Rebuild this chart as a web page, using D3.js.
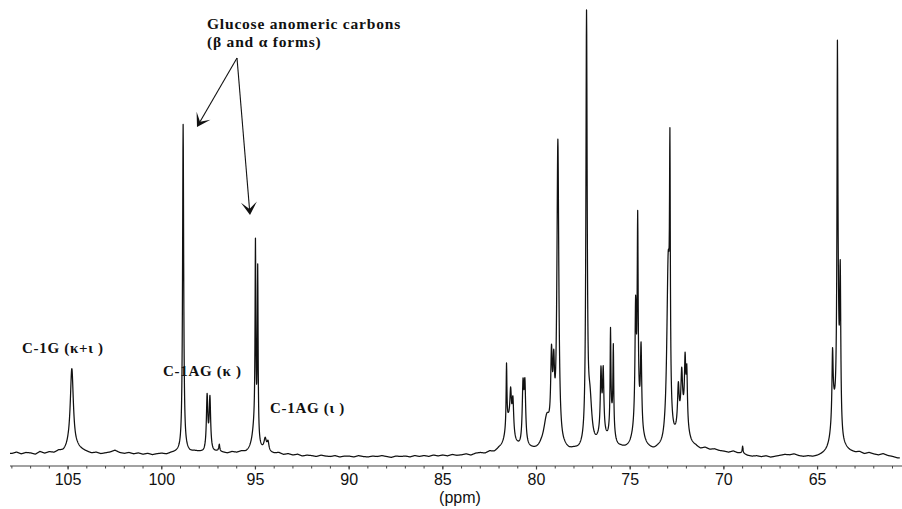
<!DOCTYPE html>
<html>
<head>
<meta charset="utf-8">
<script src="https://cdn.jsdelivr.net/npm/d3@7"></script>
<style>
  body { margin: 0; background: #fff; }
  svg { display: block; }
</style>
</head>
<body>
<svg id="chart" width="902" height="509"></svg>
<script>
// 13C NMR resonance lines: chemical shift (ppm), peak height (relative), full width at half height (ppm)
const peakShift = [104.80, 98.86, 97.58, 97.43, 96.93, 95.00, 94.88, 95.05, 94.48, 94.33,
  81.60, 81.50, 81.38, 81.26, 80.72, 80.62, 79.45, 79.20, 79.08, 78.86,
  77.33, 77.15, 76.56, 76.44, 76.50, 76.05, 75.90, 75.98,
  74.71, 74.60, 74.42, 74.60, 72.88, 72.97, 72.43, 72.25, 72.07, 71.98, 72.20,
  69.00, 64.20, 64.15, 63.94, 63.92, 63.79];
const peakHeight = [18.5, 73, 12, 11.5, 1.5, 41.5, 38, 5, 2.5, 2,
  14, 6, 8, 8, 13, 13, 7, 17, 14, 68,
  95, 10, 13, 13, 4, 21, 18, 6,
  25, 42, 18, 8, 51, 40, 9, 10, 13, 12, 7,
  1.5, 14, 8, 61.5, 28, 34];
const peakWidth = [0.20, 0.07, 0.09, 0.09, 0.06, 0.05, 0.05, 0.30, 0.15, 0.12,
  0.05, 0.45, 0.10, 0.10, 0.10, 0.10, 0.40, 0.10, 0.10, 0.12,
  0.08, 0.25, 0.08, 0.08, 0.40, 0.05, 0.05, 0.30,
  0.08, 0.06, 0.08, 0.45, 0.05, 0.18, 0.10, 0.10, 0.08, 0.08, 0.60,
  0.05, 0.07, 0.30, 0.05, 0.14, 0.07];

// baseline level (with noise) sampled every 0.25 ppm from 108.0 ppm downfield to upfield
const baselineStart = 108.0;
const baselineStep = 0.25;
const baselineLevel = [
  1.0, 1.3, 0.9, 1.2,  1.1, 0.8, 1.4, 1.0,  1.3, 1.1, 1.5, 1.2,  1.7, 1.4, 1.9, 1.6,
  1.3, 1.0, 1.2, 0.9,  1.1, 1.3, 1.7, 1.2,  1.0, 1.2, 0.9, 1.1,  0.8, 1.0, 0.7, 0.9,
  1.0, 0.8, 1.1, 1.2,  1.3, 1.5, 1.2, 1.4,  1.3, 1.1, 1.5, 1.2,  1.4, 1.2, 1.0, 1.3,
  1.1, 1.3, 1.0, 1.2,  1.4, 1.2, 1.3, 1.0,  0.9, 1.1, 0.7, 0.9,  0.6, 0.8, 0.4, 0.6,
  0.5, 0.3, 0.6, 0.4,  0.3, 0.5, 0.2, 0.4,  0.4, 0.2, 0.5, 0.3,  0.2, 0.4, 0.3, 0.5,
  0.3, 0.1, 0.4, 0.3,  0.4, 0.2, 0.5, 0.3,  0.5, 0.3, 0.6, 0.4,  0.6, 0.4, 0.7, 0.5,
  0.6, 0.8, 0.5, 0.9,  1.0, 0.8, 1.2, 0.9,  1.3, 1.1, 1.6, 1.4,  1.5, 1.3, 1.6, 1.4,
  1.2, 1.4, 1.1, 1.3,  1.2, 1.0, 1.3, 1.1,  1.3, 1.1, 1.2, 1.0,  1.2, 1.4, 1.1, 1.3,
  1.2, 1.0, 1.3, 1.1,  1.0, 1.2, 0.9, 1.1,  1.0, 0.8, 1.1, 0.9,  1.2, 1.0, 1.3, 1.1,
  1.4, 1.2, 1.5, 1.3,  1.8, 1.5, 1.7, 1.4,  1.3, 1.1, 1.4, 1.0,  1.0, 0.5, 0.3, 0.4,
  0.2, 0.4, 0.1, 0.3,  0.5, 0.7, 0.6, 0.8,  0.4, 0.2, 0.3, 0.1,  0.2, 0.4, 0.6, 0.9,
  1.2, 1.0, 1.3, 1.1,  1.0, 1.2, 0.8, 1.1,  0.8, 0.6, 0.9, 0.5,  0.3, 0.0
];

const tickValues = [105, 100, 95, 90, 85, 80, 75, 70, 65];
const minorTickValues = d3.range(108, 60, -1);
const axisTitle = "(ppm)";

const peakLabels = ["C-1G (\u03ba+\u03b9 )", "C-1AG (\u03ba )", "C-1AG (\u03b9 )"];
const noteLines = ["Glucose anomeric carbons", "(\u03b2 and \u03b1  forms)"];

const svg = d3.select("#chart");

const x = d3.scaleLinear().domain([108.1, 60.6]).range([10, 900]);
const y = d3.scaleLinear().domain([0, 100]).range([458, 10]);

function baselineAt(p) {
  const t = (baselineStart - p) / baselineStep;
  const i = Math.max(0, Math.min(baselineLevel.length - 2, Math.floor(t)));
  const f = Math.max(0, Math.min(1, t - i));
  return baselineLevel[i] * (1 - f) + baselineLevel[i + 1] * f;
}

function intensityAt(p) {
  let s = baselineAt(p);
  for (let k = 0; k < peakShift.length; k++) {
    const d = (p - peakShift[k]) / (peakWidth[k] / 2);
    s += peakHeight[k] / (1 + d * d);
  }
  return s;
}

const shifts = d3.range(108.1, 60.6, -0.01).concat(peakShift).sort((a, b) => b - a);
const spectrum = shifts.map(p => [p, intensityAt(p)]);

const line = d3.line().x(d => x(d[0])).y(d => y(d[1]));

svg.append("path")
  .datum(spectrum)
  .attr("fill", "none")
  .attr("stroke", "#111")
  .attr("stroke-width", 1.25)
  .attr("stroke-linejoin", "round")
  .attr("d", line);

// x axis (ppm, decreasing to the right)
const axisG = svg.append("g").attr("transform", "translate(0,466)");
axisG.append("line")
  .attr("x1", 10).attr("x2", 902)
  .attr("stroke", "#444").attr("stroke-width", 1.2);
axisG.selectAll("line.minor")
  .data(minorTickValues)
  .join("line")
  .attr("class", "minor")
  .attr("x1", d => x(d)).attr("x2", d => x(d))
  .attr("y1", 0).attr("y2", 2.5)
  .attr("stroke", "#444").attr("stroke-width", 1);
axisG.selectAll("line.major")
  .data(tickValues)
  .join("line")
  .attr("class", "major")
  .attr("x1", d => x(d)).attr("x2", d => x(d))
  .attr("y1", 0).attr("y2", 3.5)
  .attr("stroke", "#444").attr("stroke-width", 1.2);
axisG.selectAll("text.tick")
  .data(tickValues)
  .join("text")
  .attr("class", "tick")
  .attr("x", d => x(d))
  .attr("y", 19)
  .attr("text-anchor", "middle")
  .attr("font-family", "Liberation Sans, Arial, sans-serif")
  .attr("font-size", 16)
  .attr("fill", "#111")
  .text(d => d);

svg.append("text")
  .attr("x", 460).attr("y", 503)
  .attr("text-anchor", "middle")
  .attr("font-family", "Liberation Sans, Arial, sans-serif")
  .attr("font-size", 16)
  .attr("fill", "#111")
  .text(axisTitle);

// annotations
const serif = "Liberation Serif, Times New Roman, serif";
const labelPos = [[22, 353], [163, 376], [270, 413]];
svg.selectAll("text.plabel")
  .data(peakLabels)
  .join("text")
  .attr("class", "plabel")
  .attr("x", (d, i) => labelPos[i][0])
  .attr("y", (d, i) => labelPos[i][1])
  .attr("font-family", serif)
  .attr("font-weight", "bold")
  .attr("font-size", 15)
  .attr("letter-spacing", 0.7)
  .attr("fill", "#111")
  .text(d => d);

svg.selectAll("text.note")
  .data(noteLines)
  .join("text")
  .attr("class", "note")
  .attr("x", 207)
  .attr("y", (d, i) => 29 + i * 18)
  .attr("font-family", serif)
  .attr("font-weight", "bold")
  .attr("font-size", 15.5)
  .attr("letter-spacing", 0.8)
  .attr("fill", "#111")
  .text(d => d);

// arrows from the note to the two anomeric peaks
function arrow(x0, y0, x1, y1) {
  const ang = Math.atan2(y1 - y0, x1 - x0);
  const len = 13, half = 8, notch = 6;
  const ux = Math.cos(ang), uy = Math.sin(ang);
  const px = -uy, py = ux;
  const bx = x1 - ux * len, by = y1 - uy * len;
  const nx = x1 - ux * notch, ny = y1 - uy * notch;
  svg.append("line")
    .attr("x1", x0).attr("y1", y0).attr("x2", nx).attr("y2", ny)
    .attr("stroke", "#111").attr("stroke-width", 1.1);
  svg.append("path")
    .attr("d", `M${x1},${y1}L${bx + px * half},${by + py * half}L${nx},${ny}L${bx - px * half},${by - py * half}Z`)
    .attr("fill", "#111");
}
arrow(237, 58, 197, 127);
arrow(237, 58, 250, 215);
</script>
</body>
</html>
